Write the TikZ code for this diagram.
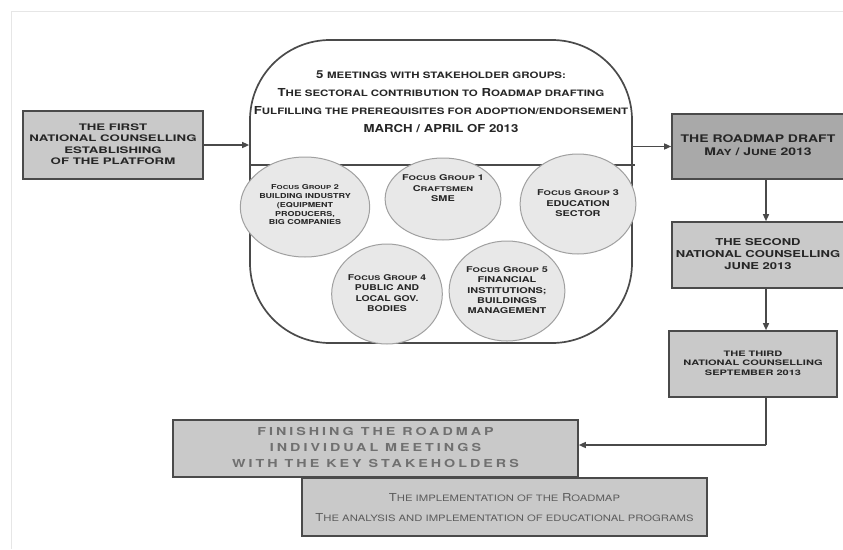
\documentclass[tikz,border=0pt]{standalone}
\usepackage{fontspec}
\usepackage{graphicx}
\setmainfont{TeX Gyre Heros}
\newfontfamily\spacedF[LetterSpace=21]{TeX Gyre Heros}
\usetikzlibrary{shapes.geometric,arrows.meta}
\newcommand\sm[1]{\scalebox{0.87}[0.8]{#1}}
\newcommand\wt[2]{\scalebox{#1}[1]{\begin{tabular}{@{}c@{}}#2\end{tabular}}}
\definecolor{boxborder}{HTML}{4A4A4A}
\definecolor{boxfill}{HTML}{C9C9C9}
\definecolor{darkfill}{HTML}{A9A9A9}
\definecolor{circfill}{HTML}{E8E8E8}
\definecolor{circborder}{HTML}{A0A0A0}
\definecolor{txt}{HTML}{262626}
\definecolor{greytxt}{HTML}{707070}
\definecolor{impltxt}{HTML}{5C5C5C}
\definecolor{frame}{HTML}{E6E6E6}
\tikzset{
  stagebox/.style={draw=boxborder, line width=1.6pt, fill=boxfill, inner sep=0pt,
    align=center, text=txt, font=\bfseries\fontsize{9}{11.5}\selectfont},
  fgroup/.style={ellipse, draw=circborder, line width=1pt, fill=circfill, inner sep=0pt,
    minimum width=108pt, minimum height=100pt, align=center, text=txt,
    font=\bfseries\fontsize{8}{10.3}\selectfont},
  arr/.style={draw=boxborder, line width=1.4pt, -{Triangle[length=7pt,width=6pt]}},
  plain/.style={draw=boxborder, line width=1.4pt}
}
\begin{document}
\begin{tikzpicture}[x=1pt,y=-1pt]
\useasboundingbox[fill=white] (0,0) rectangle (843,549);
\draw[frame, line width=1pt] (11,549) -- (11,11) -- (843,11);

% main rounded box
\node[draw=boxborder, line width=1.7pt, rounded corners=80pt, fill=white,
      minimum width=382pt, minimum height=303pt, inner sep=0pt] (main) at (441,191.5) {};
\coordinate (lineY) at (0,165);
\draw[boxborder, line width=1.4pt] (main.west |- lineY) -- ([xshift=2pt]main.east |- lineY);
\node[text=txt, font=\bfseries\fontsize{11}{17.7}\selectfont] (title) at (441,102)
  {\wt{1.2}{5 \sm{MEETINGS WITH STAKEHOLDER GROUPS:}\\
   T\sm{HE SECTORAL CONTRIBUTION TO} R\sm{OADMAP DRAFTING}\\
   F\sm{ULFILLING THE PREREQUISITES FOR ADOPTION/ENDORSEMENT}\\
   MARCH / APRIL OF 2013}};

% focus groups
\node[fgroup, minimum height=82pt, minimum width=107pt] (fg1) at (443,199)
  {\wt{1.36}{F\sm{OCUS} G\sm{ROUP} 1\\ C\sm{RAFTSMEN}\\ SME\\[20pt]}};
\node[fgroup, font=\bfseries\fontsize{6.8}{8.8}\selectfont] (fg2) at (305,207)
  {\wt{1.32}{F\sm{OCUS} G\sm{ROUP} 2\\ BUILDING INDUSTRY\\ (EQUIPMENT\\ PRODUCERS,\\ BIG COMPANIES\\[3pt]}};
\node[fgroup] (fg3) at (578,204)
  {\wt{1.36}{F\sm{OCUS} G\sm{ROUP} 3\\ EDUCATION\\ SECTOR}};
\node[fgroup] (fg4) at (387,294)
  {\wt{1.3}{F\sm{OCUS} G\sm{ROUP} 4\\ PUBLIC AND\\ LOCAL GOV.\\ BODIES}};
\node[fgroup] (fg5) at (507,291)
  {\wt{1.36}{F\sm{OCUS} G\sm{ROUP} 5\\ FINANCIAL\\ INSTITUTIONS;\\ BUILDINGS\\ MANAGEMENT}};

% stage boxes
\node[stagebox, minimum width=180pt, minimum height=68pt] (first) at (113,145)
  {\wt{1.47}{THE FIRST\\ NATIONAL COUNSELLING\\ ESTABLISHING\\ OF THE PLATFORM}};
\node[stagebox, fill=darkfill, minimum width=172pt, minimum height=65pt,
      font=\bfseries\fontsize{10.5}{12.5}\selectfont] (draft) at (758,146.5)
  {\wt{1.33}{THE ROADMAP DRAFT\\ M\sm{AY} / J\sm{UNE} 2013}};
\node[stagebox, minimum width=172pt, minimum height=66pt,
      font=\bfseries\fontsize{9.5}{12}\selectfont] (second) at (758,255)
  {\wt{1.37}{THE SECOND\\ NATIONAL COUNSELLING\\ JUNE 2013}};
\node[stagebox, minimum width=168pt, minimum height=66pt,
      font=\bfseries\fontsize{7.5}{9.6}\selectfont] (third) at (753,364)
  {\wt{1.47}{THE THIRD\\ NATIONAL COUNSELLING\\ SEPTEMBER 2013}};
\node[stagebox, minimum width=405pt, minimum height=57pt, text=greytxt,
      font=\spacedF\bfseries\fontsize{11}{16}\selectfont] (finish) at (375.5,448.5)
  {\wt{1.3}{FINISHING THE ROADMAP\\ INDIVIDUAL MEETINGS\\ WITH THE KEY STAKEHOLDERS}};
\node[stagebox, minimum width=405pt, minimum height=58pt, text=impltxt,
      font=\fontsize{11}{20}\selectfont] (impl) at (504.5,507)
  {\wt{1.18}{T\sm{HE IMPLEMENTATION OF THE} R\sm{OADMAP}\\ T\sm{HE ANALYSIS AND IMPLEMENTATION OF EDUCATIONAL PROGRAMS}}};

% connectors
\coordinate (ax) at (766,0);
\coordinate (turn) at (766,445);
\draw[arr] (first.east) -- (first.east -| main.west);
\draw[arr] (main.east |- draft.west) -- (draft.west);
\draw[arr] (draft.south -| ax) -- (second.north -| ax);
\draw[arr] (second.south -| ax) -- (third.north -| ax);
\draw[plain] (third.south -| ax) -- (turn);
\draw[arr] (turn) -- (turn -| finish.east);
\end{tikzpicture}
\end{document}
